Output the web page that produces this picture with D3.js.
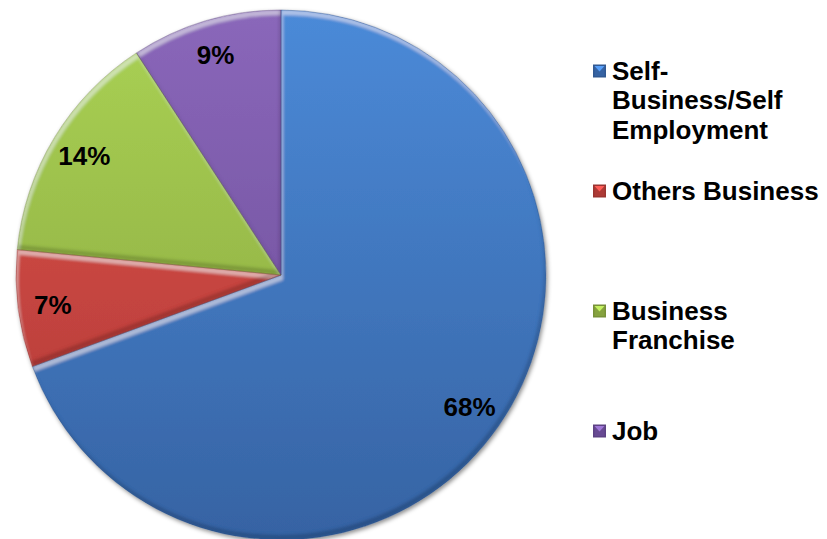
<!DOCTYPE html>
<html>
<head>
<meta charset="utf-8">
<script src="https://cdn.jsdelivr.net/npm/d3@7"></script>
<style>
  html, body { margin: 0; padding: 0; background: #ffffff; }
  svg { display: block; }
  text { font-family: "Liberation Sans", Arial, Helvetica, sans-serif; font-weight: bold; }
</style>
</head>
<body>
<svg id="chart" width="827" height="539"></svg>
<script>
// Share of respondents by type of occupation
const categories = ["Self-Business/Self Employment", "Others Business", "Business Franchise", "Job"];
const values = [68, 7, 14, 9];
const valueLabels = ["68%", "7%", "14%", "9%"];
const legendLines = [["Self-", "Business/Self", "Employment"], ["Others Business"], ["Business", "Franchise"], ["Job"]];

// Palette: [light top, dark bottom] per slice
const palette = [
  ["#4b8ad8", "#3663a3"],
  ["#e0504b", "#ad3a36"],
  ["#aad254", "#86a23f"],
  ["#8a67ba", "#684a93"]
];

const svg = d3.select("#chart");
const cx = 281, cy = 275, R = 265;

const defs = svg.append("defs");

// Vertical shading across the pie for each slice colour (pie-local coordinates)
palette.forEach((c, i) => {
  const g = defs.append("linearGradient")
    .attr("id", "grad" + i)
    .attr("gradientUnits", "userSpaceOnUse")
    .attr("x1", 0).attr("y1", -R)
    .attr("x2", 0).attr("y2", R);
  g.append("stop").attr("offset", "0%").attr("stop-color", c[0]);
  g.append("stop").attr("offset", "100%").attr("stop-color", c[1]);
});

// Soft bevel: light band on upward-facing edges, dark band on downward-facing edges
const bevel = defs.append("filter").attr("id", "bevel")
  .attr("x", "-5%").attr("y", "-5%").attr("width", "110%").attr("height", "110%");
bevel.append("feOffset").attr("in", "SourceAlpha").attr("dx", 2).attr("dy", 5).attr("result", "downShift");
bevel.append("feComposite").attr("in", "SourceAlpha").attr("in2", "downShift").attr("operator", "out").attr("result", "topBand");
bevel.append("feGaussianBlur").attr("in", "topBand").attr("stdDeviation", 1.6).attr("result", "topBlur");
bevel.append("feFlood").attr("flood-color", "#ffffff").attr("flood-opacity", 0.4).attr("result", "white");
bevel.append("feComposite").attr("in", "white").attr("in2", "topBlur").attr("operator", "in").attr("result", "hi");
bevel.append("feOffset").attr("in", "SourceAlpha").attr("dx", -2).attr("dy", -5).attr("result", "upShift");
bevel.append("feComposite").attr("in", "SourceAlpha").attr("in2", "upShift").attr("operator", "out").attr("result", "botBand");
bevel.append("feGaussianBlur").attr("in", "botBand").attr("stdDeviation", 1.6).attr("result", "botBlur");
bevel.append("feFlood").attr("flood-color", "#000000").attr("flood-opacity", 0.35).attr("result", "black");
bevel.append("feComposite").attr("in", "black").attr("in2", "botBlur").attr("operator", "in").attr("result", "lo");
const bm = bevel.append("feMerge").attr("result", "merged");
bm.append("feMergeNode").attr("in", "SourceGraphic");
bm.append("feMergeNode").attr("in", "hi");
bm.append("feMergeNode").attr("in", "lo");
bevel.append("feComposite").attr("in", "merged").attr("in2", "SourceAlpha").attr("operator", "in");

// Drop shadow under the whole pie
const shadow = defs.append("filter").attr("id", "shadow")
  .attr("x", "-10%").attr("y", "-10%").attr("width", "120%").attr("height", "120%");
shadow.append("feDropShadow").attr("dx", 1.5).attr("dy", 2).attr("stdDeviation", 2)
  .attr("flood-color", "#000").attr("flood-opacity", 0.45);

const pie = d3.pie().sort(null).value(d => d);
const arcs = pie(values);
const arc = d3.arc().innerRadius(0).outerRadius(R);
const labelArc = d3.arc().innerRadius(230).outerRadius(230);

const pieG = svg.append("g").attr("transform", `translate(${cx},${cy})`);
const sliceG = pieG.append("g").attr("filter", "url(#shadow)");

sliceG.selectAll("path.slice")
  .data(arcs)
  .join("path")
  .attr("class", "slice")
  .attr("d", arc)
  .attr("fill", (d, i) => `url(#grad${i})`)
  .attr("filter", "url(#bevel)");

sliceG.selectAll("path.edge")
  .data(arcs)
  .join("path")
  .attr("class", "edge")
  .attr("d", arc)
  .attr("fill", "none")
  .attr("stroke", (d, i) => d3.color(palette[i][1]).darker(0.6))
  .attr("stroke-opacity", 0.5)
  .attr("stroke-width", 0.8);

pieG.selectAll("text.value")
  .data(arcs)
  .join("text")
  .attr("class", "value")
  .attr("transform", d => `translate(${labelArc.centroid(d)})`)
  .attr("text-anchor", "middle")
  .attr("dy", "0.36em")
  .attr("font-size", 26)
  .attr("fill", "#000")
  .text((d, i) => valueLabels[i]);

// Legend
const legend = svg.append("g").attr("transform", "translate(593,0)");
const itemY = d3.scalePoint().domain(categories).range([71, 431]);
const lineH = 29.5;

categories.forEach((cat, i) => {
  const y = itemY(cat);
  const g = legend.append("g").attr("transform", `translate(0,${y})`);
  const s = 13;
  const c0 = d3.color(palette[i][0]), c1 = d3.color(palette[i][1]);
  g.append("rect").attr("x", 0).attr("y", -s / 2).attr("width", s).attr("height", s)
    .attr("fill", c1.darker(0.3));
  g.append("rect").attr("x", 1.5).attr("y", -s / 2 + 1.5).attr("width", s - 3).attr("height", s - 3)
    .attr("fill", palette[i][1]);
  g.append("path")
    .attr("d", `M1.5,${-s / 2 + 1.5}L${s - 1.5},${-s / 2 + 1.5}L${s / 2},${0.5}Z`)
    .attr("fill", c0.brighter(0.4));
  const t = g.append("text")
    .attr("x", 19)
    .attr("y", 8.5)
    .attr("font-size", 26)
    .attr("fill", "#000");
  legendLines[i].forEach((ln, j) => {
    t.append("tspan").attr("x", 19).attr("dy", j === 0 ? 0 : lineH).text(ln);
  });
});
</script>
</body>
</html>
